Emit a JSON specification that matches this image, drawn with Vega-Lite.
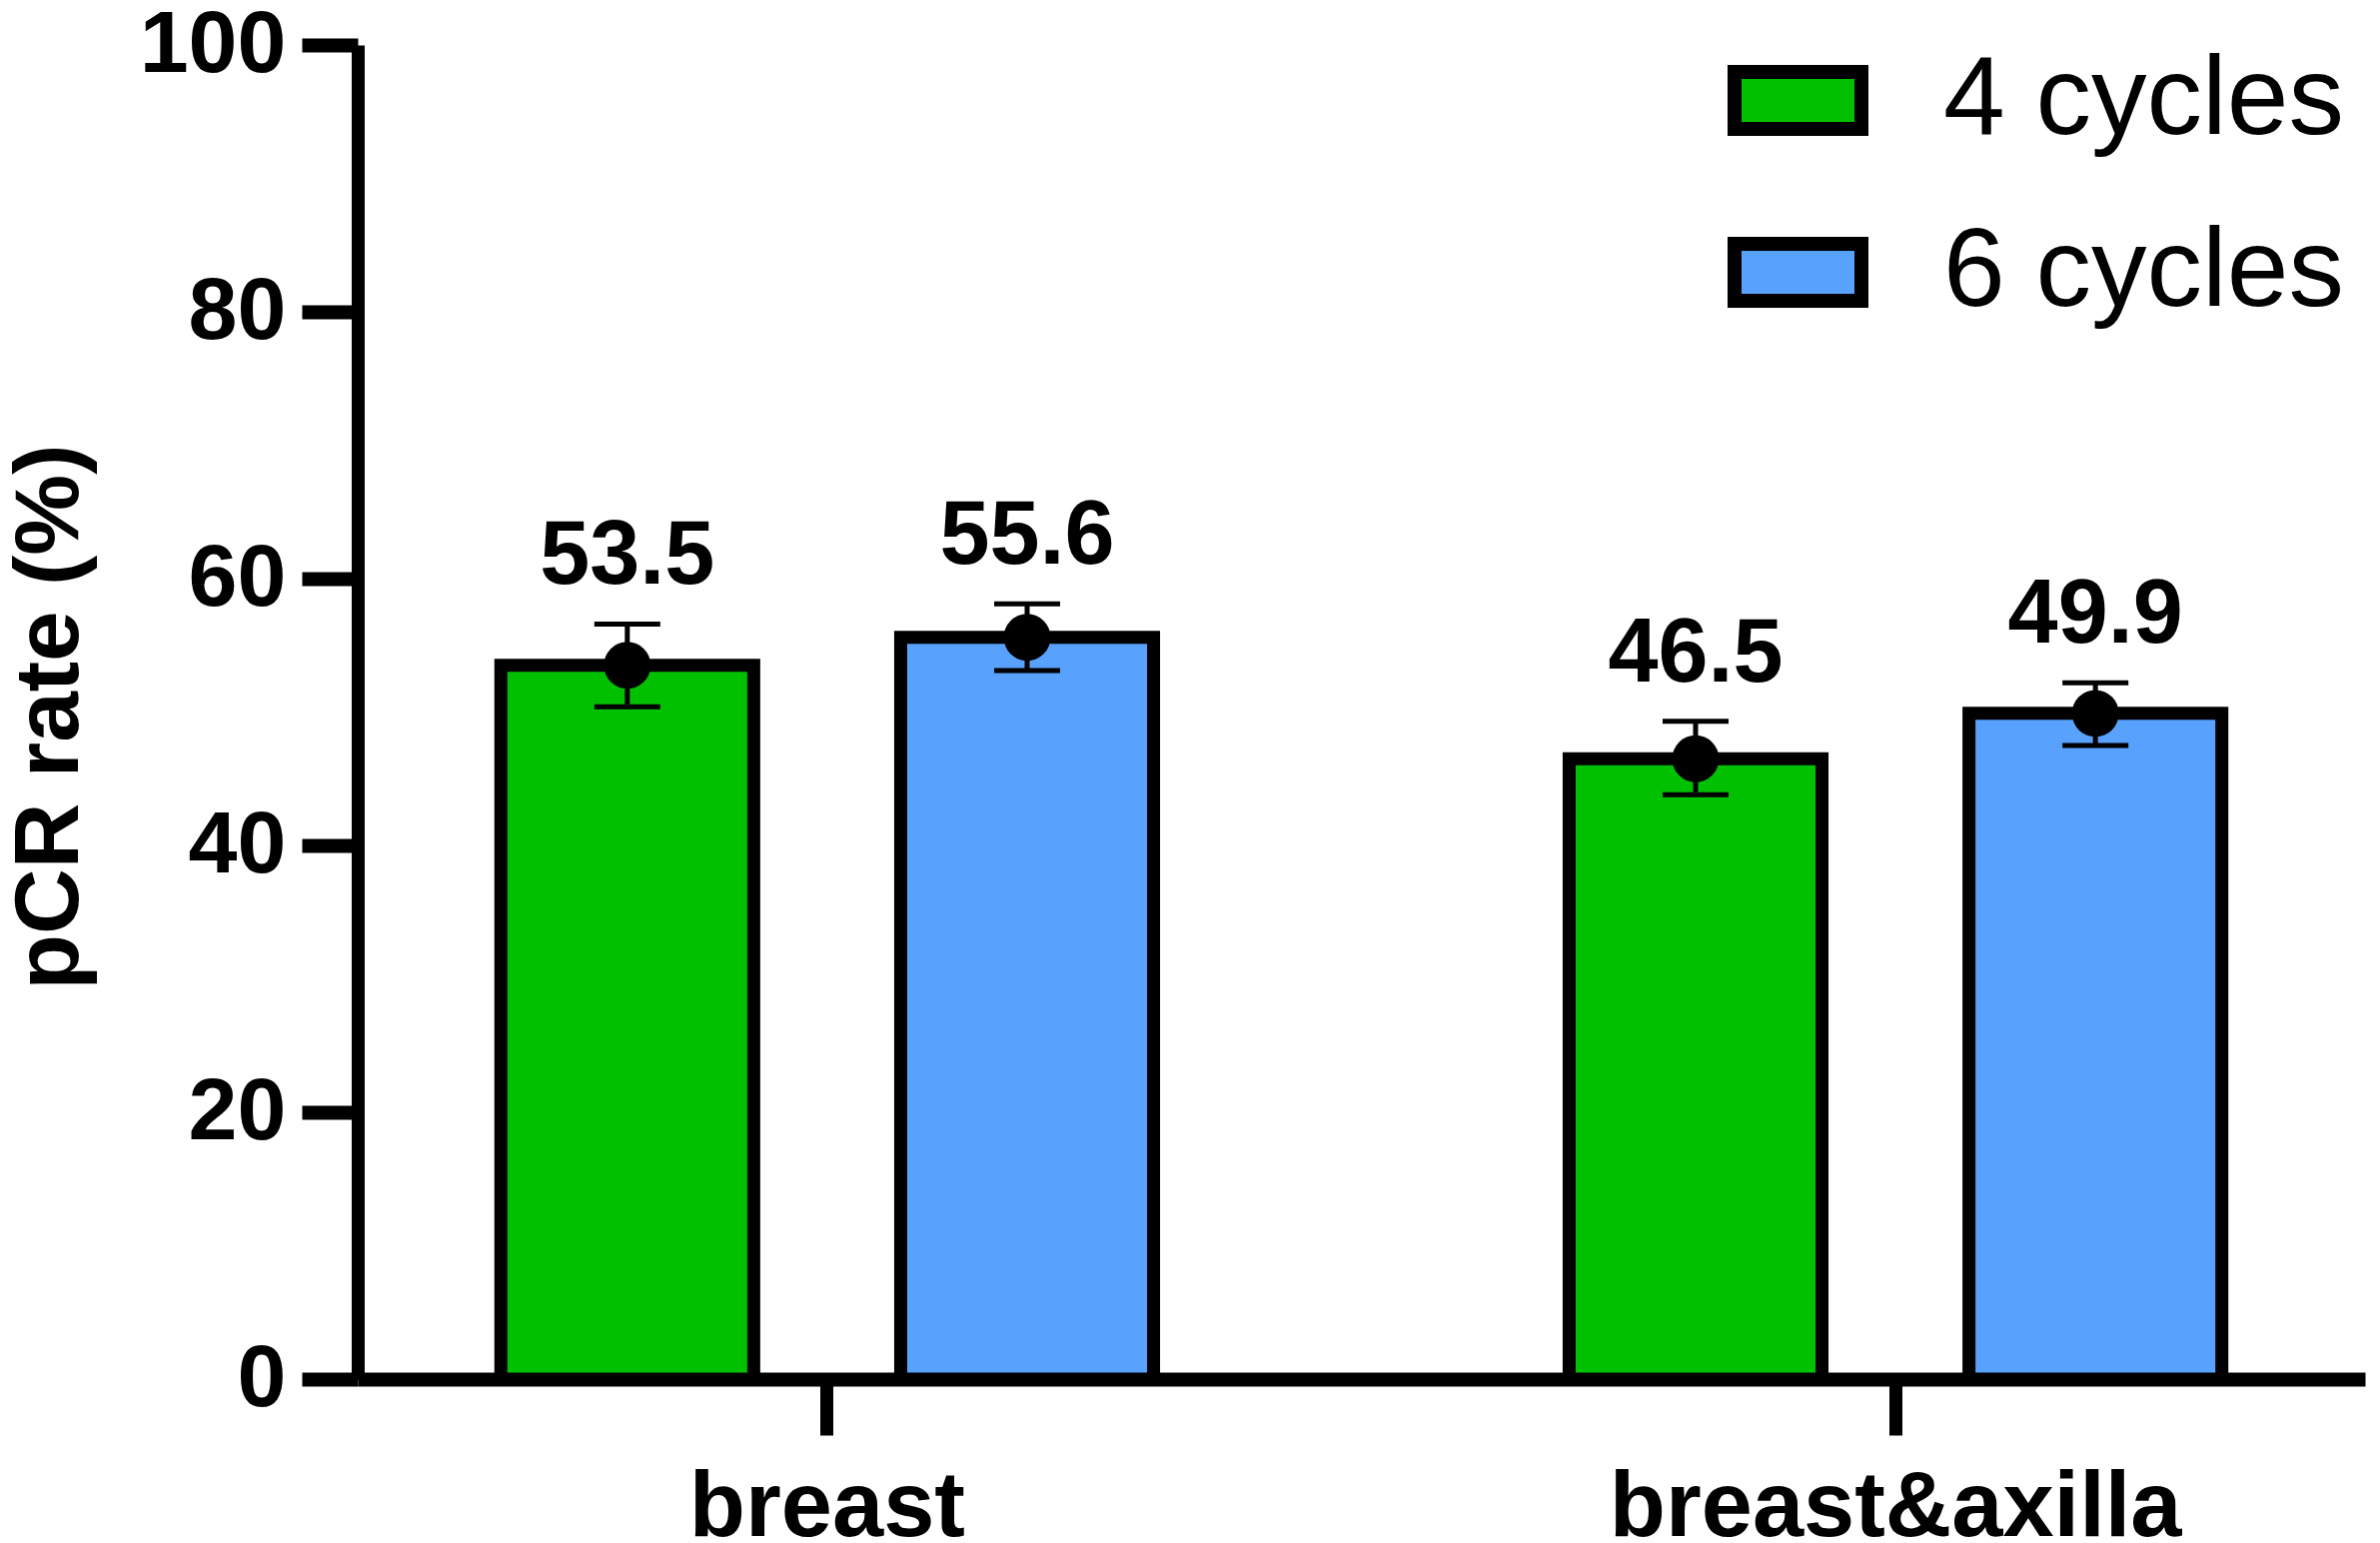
{
  "$schema": "https://vega.github.io/schema/vega-lite/v6.json",
  "autosize": "none",
  "width": 2009,
  "height": 1335,
  "padding": {"left": 358, "top": 45, "right": 15, "bottom": 164},
  "background": "white",
  "config": {"view": {"stroke": null}, "font": "Liberation Sans"},
  "data": {
    "values": [
      {"site": "breast", "cycles": "4 cycles", "rate": 53.5, "lower": 50.4, "upper": 56.6},
      {"site": "breast", "cycles": "6 cycles", "rate": 55.6, "lower": 53.1, "upper": 58.1},
      {"site": "breast&axilla", "cycles": "4 cycles", "rate": 46.5, "lower": 43.8, "upper": 49.3},
      {"site": "breast&axilla", "cycles": "6 cycles", "rate": 49.9, "lower": 47.5, "upper": 52.2}
    ]
  },
  "encoding": {
    "x": {
      "field": "site",
      "type": "nominal",
      "sort": null,
      "scale": {"paddingInner": 0.389, "paddingOuter": 0.134},
      "axis": {
        "title": null,
        "domainColor": "black",
        "domainWidth": 14,
        "tickColor": "black",
        "tickWidth": 13,
        "tickSize": 56,
        "labelFontSize": 92,
        "labelFontWeight": "bold",
        "labelFont": "Liberation Sans",
        "labelColor": "black",
        "labelPadding": 27,
        "labelAngle": 0,
        "labelLimit": 2000,
        "bandPosition": 0.5
      }
    },
    "xOffset": {
      "field": "cycles",
      "type": "nominal",
      "scale": {"paddingInner": 0.3675, "paddingOuter": 0}
    }
  },
  "layer": [
    {
      "mark": {"type": "bar", "stroke": "black", "strokeWidth": 13, "strokeJoin": "miter"},
      "encoding": {
        "y": {
          "field": "rate",
          "type": "quantitative",
          "scale": {"domain": [0, 100], "nice": false},
          "axis": {
            "title": "pCR rate (%)",
            "values": [0, 20, 40, 60, 80, 100],
            "grid": false,
            "domainColor": "black",
            "domainWidth": 13,
            "tickColor": "black",
            "tickWidth": 14,
            "tickSize": 56,
            "labelFontSize": 88,
            "labelFontWeight": "bold",
            "labelFont": "Liberation Sans",
            "labelColor": "black",
            "labelPadding": 16,
            "labelFlush": false,
            "labelOverlap": false,
            "titleFontSize": 91,
            "titleFontWeight": "bold",
            "titleFont": "Liberation Sans",
            "titleColor": "black",
            "titleAngle": -90,
            "titleX": -281,
            "titleY": 672,
            "titleAlign": "center",
            "titleBaseline": "alphabetic"
          }
        },
        "color": {
          "field": "cycles",
          "type": "nominal",
          "scale": {"domain": ["4 cycles", "6 cycles"], "range": ["#00C000", "#58A1FC"]},
          "legend": {
            "title": null,
            "orient": "none",
            "legendX": 1371,
            "legendY": -15,
            "symbolType": "M-1,-0.449H1V0.449H-1Z",
            "symbolSize": 16129,
            "symbolStrokeColor": "black",
            "symbolStrokeWidth": 14,
            "symbolOpacity": 1,
            "labelFontSize": 111,
            "labelFont": "Liberation Sans",
            "labelColor": "black",
            "labelOffset": 75,
            "rowPadding": 44,
            "labelLimit": 1000
          }
        }
      }
    },
    {
      "mark": {"type": "rule", "color": "black", "strokeWidth": 5},
      "encoding": {
        "y": {"field": "lower", "type": "quantitative"},
        "y2": {"field": "upper"}
      }
    },
    {
      "mark": {"type": "tick", "color": "black", "thickness": 5, "size": 66, "opacity": 1},
      "encoding": {"y": {"field": "upper", "type": "quantitative"}}
    },
    {
      "mark": {"type": "tick", "color": "black", "thickness": 5, "size": 66, "opacity": 1},
      "encoding": {"y": {"field": "lower", "type": "quantitative"}}
    },
    {
      "mark": {"type": "point", "filled": true, "color": "black", "size": 2200, "opacity": 1, "shape": "circle"},
      "encoding": {"y": {"field": "rate", "type": "quantitative"}}
    },
    {
      "mark": {"type": "text", "fontSize": 90, "fontWeight": "bold", "font": "Liberation Sans", "dy": -40, "baseline": "alphabetic", "color": "black"},
      "encoding": {
        "y": {"field": "upper", "type": "quantitative"},
        "text": {"field": "rate", "type": "quantitative", "format": ".1f"}
      }
    }
  ]
}
